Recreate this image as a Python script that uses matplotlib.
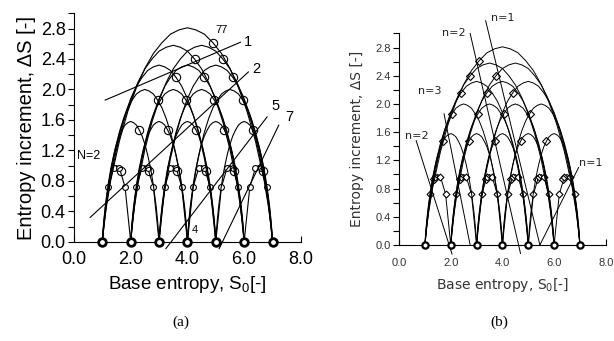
import matplotlib
matplotlib.use("Agg")
import matplotlib.pyplot as plt
from matplotlib.ticker import MultipleLocator, FormatStrFormatter

plt.rcParams["font.family"] = ["Liberation Sans", "DejaVu Sans"]

# integer base entropies where the arcs start / end
base_points = [1, 2, 3, 4, 5, 6, 7]
# peak height of an arc spanning 1, 2, ... 6 units
peak_heights = [1.0, 1.58, 2.0, 2.32, 2.58, 2.81]

# normalised arc profile (left half)
profile_t = [0.0, 0.01, 0.025, 0.05, 0.075, 0.1, 0.15, 0.2, 0.25, 0.3, 0.35, 0.4, 0.45, 0.5]
profile_f = [0.0, 0.08, 0.17, 0.29, 0.38, 0.47, 0.61, 0.72, 0.81, 0.88, 0.93, 0.97, 0.99, 1.0]

# the single-step arcs (N=2) are drawn as coarse polylines
step_t = [0.0, 0.2, 0.4, 0.5, 0.6, 0.8, 1.0]
step_f = [0.0, 0.72, 0.97, 1.0, 0.97, 0.72, 0.0]
step_marker_t = [0.2, 0.4, 0.6, 0.8]
step_marker_f = [0.72, 0.97, 0.97, 0.72]

# where the open marker sits on every arc
marker_t_a = 0.65
marker_t_b = 0.35
marker_f = 0.93

# guide lines of panel (a): (x0, y0, x1, y1) and their labels
guides_a = [(1.10, 1.86, 5.87, 2.62), (0.57, 0.32, 6.15, 2.23),
            (3.24, -0.09, 6.81, 1.64), (5.12, -0.09, 7.22, 1.53)]
guide_labels_a = ["1", "2", "5", "7"]
guide_label_xy_a = [(6.00, 2.62), (6.30, 2.27), (6.95, 1.78), (7.45, 1.64)]

# guide lines of panel (b)
guides_b = [(3.35, 3.18, 5.45, 0.0), (2.75, 3.0, 4.7, -0.12), (1.74, 1.86, 2.75, 0.0),
            (0.66, 1.48, 2.05, -0.13), (5.45, 0.0, 6.95, 1.1)]
guide_labels_b = ["n=1", "n=2", "n=3", "n=2", "n=1"]
guide_label_xy_b = [(4.0, 3.22), (2.1, 3.0), (1.2, 2.19), (0.7, 1.55), (7.4, 1.16)]


def full_profile():
    ts = profile_t + [1 - t for t in reversed(profile_t[:-1])]
    fs = profile_f + list(reversed(profile_f[:-1]))
    return ts, fs


def draw_arcs(ax, marker_t, mk, ms, ms_small, ms_base, mew_base, lw):
    ts, fs = full_profile()
    for w, peak in enumerate(peak_heights, start=1):
        for a in base_points:
            b = a + w
            if b > base_points[-1]:
                continue
            if w == 1:
                ax.plot([a + t for t in step_t], [peak * f for f in step_f],
                        color="black", lw=lw, clip_on=False)
                ax.plot([a + t for t in step_marker_t], [peak * f for f in step_marker_f],
                        ls="none", marker=mk, ms=ms_small, mfc="white",
                        mec="black", mew=0.8)
            else:
                ax.plot([a + w * t for t in ts], [peak * f for f in fs],
                        color="black", lw=lw, clip_on=False)
            ax.plot([a + w * marker_t], [peak * marker_f], ls="none", marker=mk,
                    ms=ms, mfc="none", mec="black", mew=0.8)
    ax.plot(base_points, [0] * len(base_points), ls="none", marker="o", ms=ms_base,
            mfc="white", mec="black", mew=mew_base, clip_on=False, zorder=5)


def style_axis(ax, fs_tick, fs_xlabel, fs_ylabel, color, family, pads):
    ax.set_xlim(0, 8)
    ax.set_ylim(0, 3.0)
    ax.spines["top"].set_visible(False)
    ax.spines["right"].set_visible(False)
    ax.xaxis.set_major_locator(MultipleLocator(2.0))
    ax.yaxis.set_major_locator(MultipleLocator(0.4))
    ax.yaxis.set_minor_locator(MultipleLocator(0.2))
    ax.xaxis.set_major_formatter(FormatStrFormatter("%.1f"))
    ax.yaxis.set_major_formatter(FormatStrFormatter("%.1f"))
    ax.tick_params(axis="y", which="both", direction="out", length=4, width=0.8,
                   labelsize=fs_tick, labelcolor=color, pad=2)
    ax.tick_params(axis="x", direction="in", length=4, width=0.8,
                   labelsize=fs_tick, labelcolor=color, pad=pads[0])
    ax.set_xlabel(r"Base entropy, S$_\mathregular{0}$[-]", fontsize=fs_xlabel,
                  color=color, labelpad=pads[1], family=family)
    ax.set_ylabel("Entropy increment, ΔS [-]", fontsize=fs_ylabel, color=color,
                  labelpad=pads[2], family=family)


fig = plt.figure(figsize=(6.14, 3.41), dpi=100)
ax_a = fig.add_axes([0.1205, 0.291, 0.3695, 0.67])
ax_b = fig.add_axes([0.650, 0.2815, 0.3366, 0.6205])

# panel (a)
draw_arcs(ax_a, marker_t_a, "o", 6, 4.2, 5.5, 2.0, 0.8)
for (x0, y0, x1, y1) in guides_a:
    ax_a.plot([x0, x1], [y0, y1], color="black", lw=0.8, clip_on=False)
for lab, (x, y) in zip(guide_labels_a, guide_label_xy_a):
    ax_a.text(x, y, lab, fontsize=10.5, ha="left", va="center")
ax_a.text(5.0, 2.78, "77", fontsize=8, ha="left", va="center")
ax_a.text(4.15, 0.15, "4", fontsize=8, ha="left", va="center")
ax_a.text(0.12, 1.13, "N=2", fontsize=9, ha="left", va="center")
style_axis(ax_a, 13, 13.5, 14.5, "black", ["Liberation Sans", "DejaVu Sans"], (7, 4, 3))

# panel (b)
draw_arcs(ax_b, marker_t_b, "D", 4, 3.5, 4.5, 1.6, 0.7)
for (x0, y0, x1, y1) in guides_b:
    ax_b.plot([x0, x1], [y0, y1], color="black", lw=0.7, clip_on=False)
for lab, (x, y) in zip(guide_labels_b, guide_label_xy_b):
    ax_b.text(x, y, lab, fontsize=8, ha="center", va="center", color="#222222",
              family="DejaVu Sans", clip_on=False)
style_axis(ax_b, 8, 10, 10, "#333333", "DejaVu Sans", (9, 6, 8))

fig.text(0.295, 0.045, "(a)", fontsize=11, ha="center", family="Liberation Serif")
fig.text(0.813, 0.045, "(b)", fontsize=11, ha="center", family="Liberation Serif")

fig.savefig("out.png", dpi=100)
